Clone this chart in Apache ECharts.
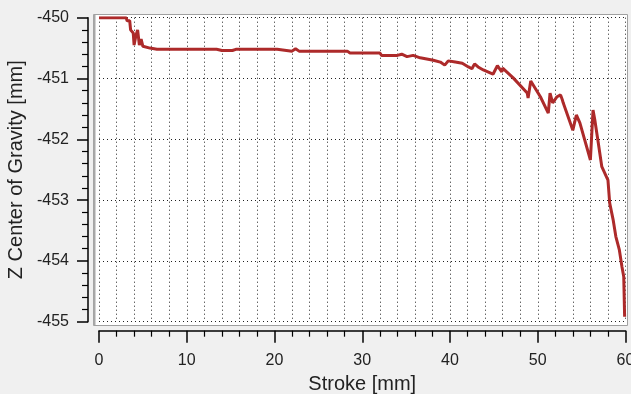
<!DOCTYPE html>
<html>
<head>
<meta charset="utf-8">
<script src="https://cdn.jsdelivr.net/npm/echarts@6/dist/echarts.min.js"></script>
<style>
  html, body { margin: 0; padding: 0; background: #f0f0f0; }
  #chart { width: 631px; height: 394px; }
</style>
</head>
<body>
<div id="chart"></div>
<script>
// stroke [mm] and Z center of gravity [mm]
var strokeValues = [0, 3.1, 3.2, 3.5, 3.6, 3.9, 4.0, 4.2, 4.4, 4.6, 4.8, 5.0, 5.8, 6.6, 7.2, 13.4, 14.0, 15.2, 15.6, 20.3, 20.5, 22.0, 22.4, 22.8, 28.3, 28.6, 32.0, 32.2, 34.0, 34.5, 35.1, 35.8, 36.6, 38.1, 38.9, 39.4, 39.8, 40.6, 41.4, 42.1, 42.5, 42.8, 43.2, 43.8, 44.9, 45.4, 45.9, 46.0, 47.2, 48.8, 48.9, 49.2, 50.3, 51.2, 51.4, 51.7, 52.2, 52.6, 52.8, 52.9, 54.0, 54.4, 54.8, 56.0, 56.3, 56.5, 56.9, 57.3, 58.0, 58.2, 58.6, 58.9, 59.3, 59.6, 59.8, 59.9];
var zCogValues = [-450, -450, -450.05, -450.05, -450.2, -450.25, -450.45, -450.3, -450.2, -450.45, -450.35, -450.47, -450.5, -450.52, -450.52, -450.52, -450.54, -450.54, -450.52, -450.52, -450.54, -450.55, -450.51, -450.55, -450.55, -450.58, -450.58, -450.62, -450.62, -450.6, -450.64, -450.62, -450.66, -450.7, -450.73, -450.78, -450.71, -450.73, -450.75, -450.81, -450.84, -450.76, -450.81, -450.86, -450.93, -450.79, -450.89, -450.83, -450.99, -451.24, -451.32, -451.04, -451.3, -451.57, -451.24, -451.4, -451.3, -451.27, -451.35, -451.4, -451.85, -451.6, -451.73, -452.34, -451.52, -451.68, -452.06, -452.45, -452.67, -453.05, -453.33, -453.6, -453.82, -454.1, -454.26, -454.92];
var xTicks = { min: 0, max: 60, step: 10 };
var yTicks = { min: -455, max: -450, step: 1 };

var points = strokeValues.map(function (x, i) { return [x, zCogValues[i]]; });

var chart = echarts.init(document.getElementById('chart'));
var dotted = { color: '#222', width: 1, type: [1, 3] };
var font = 'Liberation Sans, Arial, sans-serif';

chart.setOption({
  backgroundColor: '#f0f0f0',
  animation: false,
  graphic: [
    { type: 'rect', z: -10, shape: { x: 93.5, y: 14.5, width: 534, height: 311 },
      style: { fill: '#fff', stroke: '#a0a0a0', lineWidth: 1 } },
    { type: 'line', z: -9, shape: { x1: 94.5, y1: 15, x2: 94.5, y2: 325 },
      style: { stroke: '#a8a8a8', lineWidth: 2 } }
  ],
  grid: { left: 99, right: 5.5, top: 17.7, bottom: 72.3, outerBoundsMode: 'none', containLabel: false },
  xAxis: {
    type: 'value',
    min: xTicks.min, max: xTicks.max, interval: xTicks.step,
    offset: 9,
    name: 'Stroke [mm]', nameLocation: 'middle', nameGap: 44,
    nameTextStyle: { fontFamily: font, fontSize: 20, color: '#222' },
    axisLine: { show: true, onZero: false, lineStyle: { color: '#000', width: 1.5 } },
    axisTick: { show: true, length: 12, lineStyle: { color: '#000', width: 1.5 } },
    minorTick: { show: true, splitNumber: 5, length: 6, lineStyle: { color: '#000', width: 1.2 } },
    axisLabel: { margin: 22, fontFamily: font, fontSize: 16, color: '#222' },
    splitLine: { show: true, lineStyle: dotted },
    minorSplitLine: { show: true, lineStyle: dotted }
  },
  yAxis: {
    type: 'value',
    min: yTicks.min, max: yTicks.max, interval: yTicks.step,
    offset: 11,
    name: 'Z Center of Gravity [mm]', nameLocation: 'middle', nameGap: 60,
    nameTextStyle: { fontFamily: font, fontSize: 20, color: '#222' },
    axisLine: { show: true, onZero: false, lineStyle: { color: '#000', width: 1.5 } },
    axisTick: { show: true, length: 11, lineStyle: { color: '#000', width: 1.5 } },
    minorTick: { show: true, splitNumber: 5, length: 6, lineStyle: { color: '#000', width: 1.2 } },
    axisLabel: { margin: 19, fontFamily: font, fontSize: 16, color: '#222' },
    splitLine: { show: true, lineStyle: dotted },
    minorSplitLine: { show: false }
  },
  series: [{
    type: 'line',
    data: points,
    showSymbol: false,
    lineStyle: { color: '#ad2a2a', width: 3 },
    clip: true
  }]
});
</script>
</body>
</html>
